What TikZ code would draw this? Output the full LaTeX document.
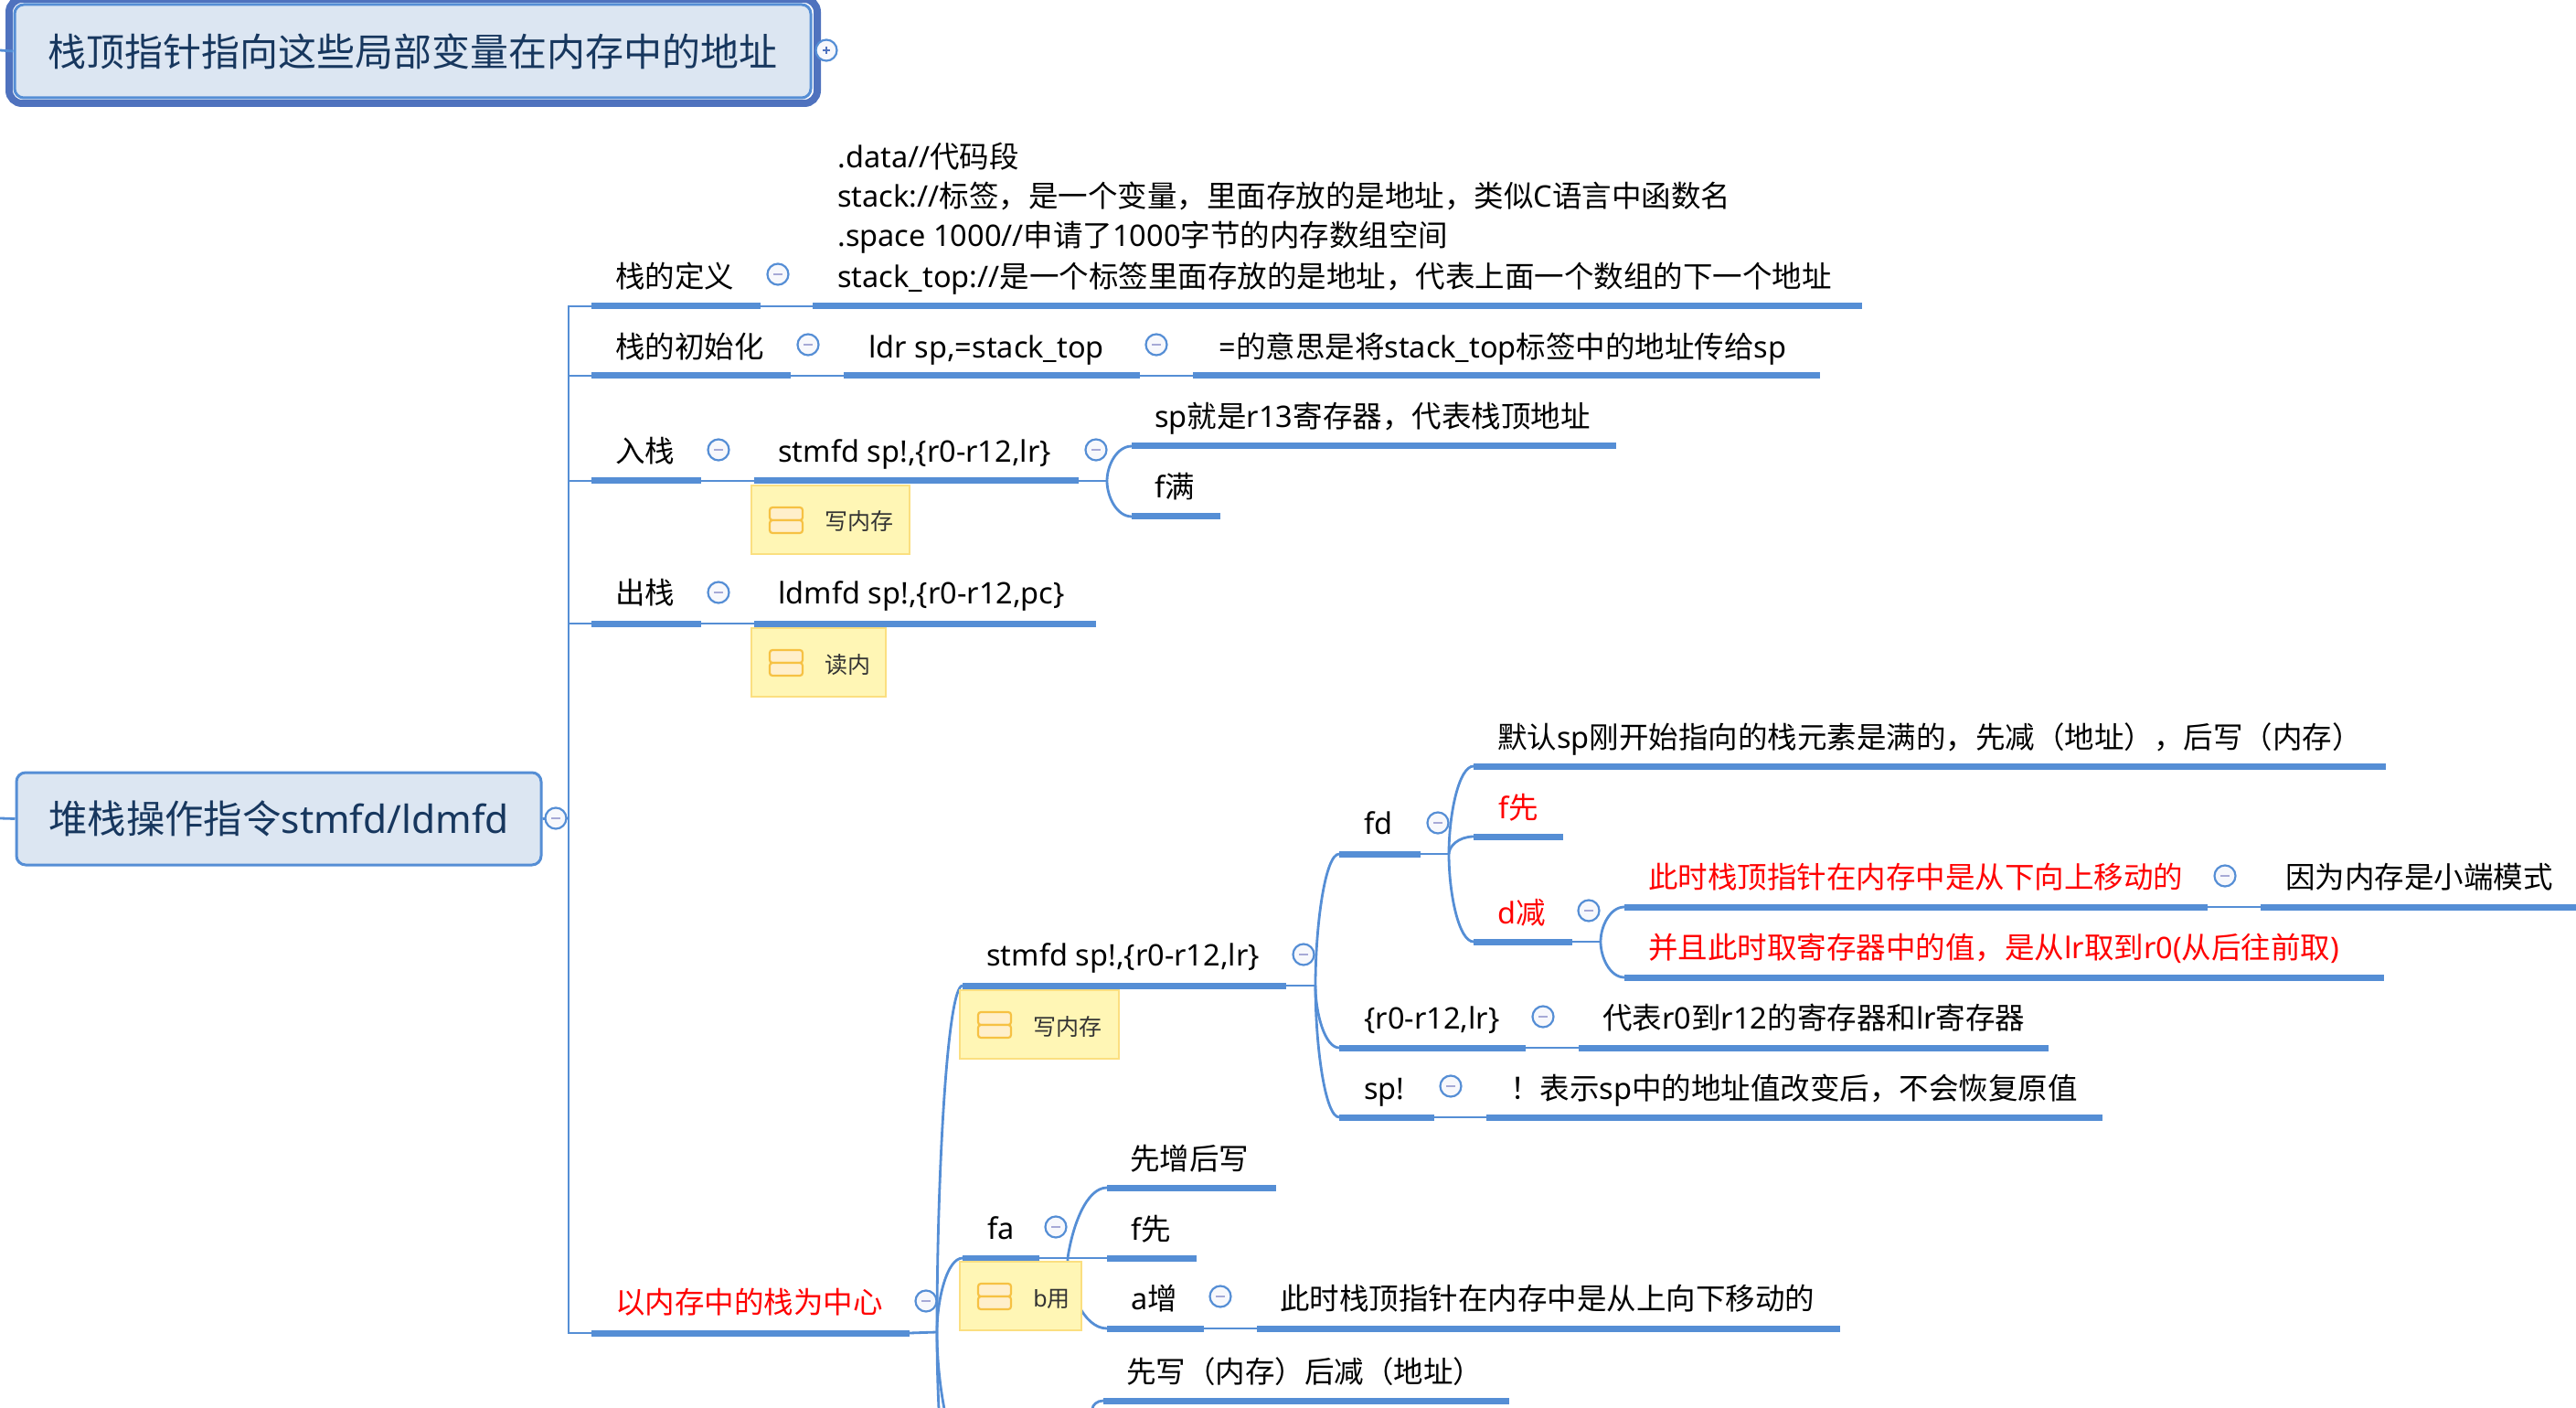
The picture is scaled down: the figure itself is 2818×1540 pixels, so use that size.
\documentclass[tikz,border=0pt]{standalone}
\usepackage{fontspec}
\usetikzlibrary{calc}
\setmainfont{Noto Sans}
\newfontfamily\cjkf{Noto Sans CJK SC}
\newfontfamily\latf{Noto Sans}
\makeatletter
\XeTeXinterchartokenstate=1
\newXeTeXintercharclass\cjkclass
\count@="2E80 \loop\ifnum\count@<"A000 \XeTeXcharclass\count@=\cjkclass \advance\count@ by 1 \repeat
\count@="FF00 \loop\ifnum\count@<"FFF0 \XeTeXcharclass\count@=\cjkclass \advance\count@ by 1 \repeat
\XeTeXinterchartoks 0 \cjkclass={\cjkf}
\XeTeXinterchartoks 4095 \cjkclass={\cjkf}
\XeTeXinterchartoks \cjkclass 0={\latf}
\XeTeXinterchartoks 4095 0={\latf}
\makeatother
\definecolor{linkblue}{HTML}{558ED5}
\definecolor{boxfill}{HTML}{DCE6F2}
\definecolor{boxtext}{HTML}{17375E}
\definecolor{titleframe}{HTML}{4F72BE}
\definecolor{notefill}{HTML}{FFF6B5}
\definecolor{noteline}{HTML}{FBDF80}
\definecolor{iconfill}{HTML}{FFEFCB}
\definecolor{iconline}{HTML}{F6C143}
\definecolor{minusc}{HTML}{A6A9D6}
\definecolor{togfill}{HTML}{F7F8FC}
\tikzset{
  conn/.style={draw=linkblue,line width=1.4pt},
  ulbar/.style={draw=linkblue,line width=3.5pt},
  topicbox/.style={draw=linkblue,line width=1.5pt,fill=boxfill,rounded corners=5pt,text=boxtext,
    font=\fontsize{21.2}{25}\selectfont,inner sep=0pt},
  lab/.style={anchor=base west,inner sep=0pt,font=\fontsize{16.25}{21.5}\selectfont,text=black},
  redlab/.style={lab,text=red},
  toggle/.style={circle,draw=linkblue,line width=1.1pt,fill=togfill,minimum size=11.5pt,inner sep=0pt},
  minusbar/.style={draw=minusc,line width=1.2pt},
  plusbar/.style={draw=titleframe,line width=1.1pt},
  notebox/.style={anchor=north west,draw=noteline,line width=1.2pt,fill=notefill,inner sep=0pt},
  noteicon/.style={draw=iconline,line width=1.1pt,fill=iconfill,rounded corners=1.5pt},
  notetext/.style={anchor=base west,inner sep=0pt,font=\fontsize{12.5}{15}\selectfont,text=black!80},
}
% underline bar with named ends
\newcommand{\ulin}[4]{\coordinate (#1-w) at (#2,#4);\coordinate (#1-e) at (#3,#4);\draw[ulbar] (#1-w) -- (#1-e);}
% text whose visual centre line is y
\newcommand{\lbl}[5][lab]{\node[#1] (#2) at (#3,#4+12) {#5};}
% collapse toggle
\newcommand{\tog}[3]{\node[toggle] (#1) at (#2,#3) {};\draw[minusbar] ($(#1.center)+(-5,0)$) -- ($(#1.center)+(5,0)$);}
% fork curve
\newcommand{\fcurve}[2]{\draw[conn] (#1) .. controls ($(#1)!0.45!(#1|-#2)$) and ($(#1|-#2)!0.4!(#2)$) .. (#2);}
% note box
\newcommand{\note}[6]{\node[notebox,minimum width=#4*0.5pt,minimum height=37.5pt] (#1) at (#2,#3) {};
  \draw[noteicon] ($(#1.north west)+(21,25)$) rectangle ($(#1.north west)+(57,39)$);
  \draw[noteicon] ($(#1.north west)+(21,39)$) rectangle ($(#1.north west)+(57,53)$);
  \node[notetext] (#1t) at ($(#1.north west)+(#5,50)$) {#6};}
\begin{document}
\begin{tikzpicture}[x=0.5pt,y=-0.5pt]
\path[clip] (0,0) rectangle (2818,1540);
\useasboundingbox (0,0) rectangle (2818,1540);
% title
\draw[draw=titleframe,line width=4pt,fill=white,rounded corners=7pt] (10,-1) rectangle (894,113);
\node[topicbox,minimum width=435.5pt,minimum height=51pt,font=\fontsize{21}{25}\selectfont] (title) at (451.5,56) {栈顶指针指向这些局部变量在内存中的地址};
\coordinate (titlein) at (0,55);
\draw[conn] (titlein) -- (title.west);
\node[toggle] (titletog) at (904,55) {};
\draw[plusbar] ($(titletog.center)+(-4,0)$) -- ($(titletog.center)+(4,0)$);
\draw[plusbar] ($(titletog.center)+(0,-4)$) -- ($(titletog.center)+(0,4)$);
% root
\node[topicbox,minimum width=287pt,minimum height=50.5pt] (root) at (305,895.5) {堆栈操作指令stmfd/ldmfd};
\coordinate (rootin) at (0,895);
\draw[conn] (rootin) -- (root.west);
\coordinate (trunk) at (622,895);
\draw[conn] (root.east) -- (trunk);
% first level
\ulin{a1}{647}{832}{335}\ulin{a2}{889}{2037}{335}
\ulin{b1}{647}{865}{411}\ulin{b2}{923}{1247}{411}\ulin{b3}{1305}{1991}{411}
\ulin{c1}{647}{767}{526}\ulin{c2}{825}{1180}{526}\ulin{c3}{1238}{1768}{488}\ulin{c4}{1238}{1335}{565}
\ulin{d1}{647}{767}{682}\ulin{d2}{825}{1199}{682}
\ulin{e1}{647}{995}{1458}
\foreach \t in {a1,b1,c1,d1,e1} {\draw[conn] (trunk) |- (\t-w);}
\draw[conn] (a1-e) -- (a2-w);
\draw[conn] (b1-e) -- (b2-w);
\draw[conn] (b2-e) -- (b3-w);
\draw[conn] (c1-e) -- (c2-w);
\draw[conn] (d1-e) -- (d2-w);
\coordinate (cf) at (1211,526);
\draw[conn] (c2-e) -- (cf);
\fcurve{cf}{c3-w}\fcurve{cf}{c4-w}
% main fork
\coordinate (mf) at (1025,1457);
\draw[conn] (e1-e) -- (mf);
\ulin{f1}{1053}{1407}{1078}\ulin{g1}{1053}{1137}{1376}
\fcurve{mf}{f1-w}\fcurve{mf}{g1-w}
\coordinate (mfa) at (1027,1541);\coordinate (mfb) at (1033,1541);
\draw[conn] (mf) .. controls (1025,1490) and (1026,1520) .. (mfa);
\draw[conn] (mf) .. controls (1025,1490) and (1029,1520) .. (mfb);
% stmfd subtree
\coordinate (sf) at (1439,1078);
\draw[conn] (f1-e) -- (sf);
\ulin{h1}{1465}{1554}{934}\ulin{h2}{1465}{1669}{1146}\ulin{h3}{1727}{2241}{1146}
\ulin{h4}{1465}{1569}{1222}\ulin{h5}{1626}{2300}{1222}
\fcurve{sf}{h1-w}\fcurve{sf}{h2-w}\fcurve{sf}{h4-w}
\draw[conn] (h2-e) -- (h3-w);
\draw[conn] (h4-e) -- (h5-w);
\coordinate (ff) at (1585,934);
\draw[conn] (h1-e) -- (ff);
\ulin{i1}{1612}{2610}{838}\ulin{i2}{1612}{1710}{915}\ulin{i3}{1612}{1720}{1030}
\fcurve{ff}{i1-w}\fcurve{ff}{i2-w}\fcurve{ff}{i3-w}
\coordinate (df) at (1751,1030);
\draw[conn] (i3-e) -- (df);
\ulin{j1}{1777}{2415}{992}\ulin{j2}{2473}{2818}{992}\ulin{j3}{1777}{2608}{1069}
\fcurve{df}{j1-w}\fcurve{df}{j3-w}
\draw[conn] (j1-e) -- (j2-w);
% fa subtree
\coordinate (af) at (1168,1376);
\ulin{k1}{1211}{1396}{1299}\ulin{k2}{1211}{1309}{1376}\ulin{k3}{1211}{1317}{1453}\ulin{k4}{1375}{2013}{1453}
\ulin{k5}{1207}{1651}{1532}
\draw[conn] (g1-e) -- (k2-w);
\draw[conn] (af) .. controls (1173,1342) and (1188,1299) .. (k1-w);
\fcurve{af}{k3-w}
\draw[conn] (k3-e) -- (k4-w);
\coordinate (kf) at (1195,1541);
\fcurve{kf}{k5-w}
% toggles
\tog{t0}{608}{895}
\tog{t1}{851}{300}\tog{t2}{884}{377}\tog{t3}{1265}{377}
\tog{t4}{786}{492}\tog{t5}{1199}{492}\tog{t6}{786}{648}
\tog{t7}{1426}{1044}\tog{t8}{1573}{900}\tog{t9}{1738}{996}\tog{t10}{2434}{958}
\tog{t11}{1688}{1112}\tog{t12}{1587}{1188}
\tog{t13}{1013}{1423}\tog{t14}{1155}{1342}\tog{t15}{1335}{1418}
% labels
\lbl{la1}{673}{302.5}{栈的定义}
\lbl{la2a}{916}{172}{.data//代码段}
\lbl{la2b}{916}{215}{stack://标签，是一个变量，里面存放的是地址，类似C语言中函数名}
\lbl{la2c}{916}{258}{.space 1000//申请了1000字节的内存数组空间}
\lbl{la2d}{916}{303}{stack\_top://是一个标签里面存放的是地址，代表上面一个数组的下一个地址}
\lbl{lb1}{673}{380}{栈的初始化}
\lbl{lb2}{950}{380}{ldr sp,=stack\_top}
\lbl{lb3}{1333}{380}{=的意思是将stack\_top标签中的地址传给sp}
\lbl{lc1}{673}{494}{入栈}
\lbl{lc2}{851}{494}{stmfd sp!,\{r0-r12,lr\}}
\lbl{lc3}{1263}{456}{sp就是r13寄存器，代表栈顶地址}
\lbl{lc4}{1263}{532.5}{f满}
\lbl{ld1}{673}{649}{出栈}
\lbl{ld2}{851}{649}{ldmfd sp!,\{r0-r12,pc\}}
\lbl{lf1}{1079}{1044}{stmfd sp!,\{r0-r12,lr\}}
\lbl{lh1}{1492}{900}{fd}
\lbl{li1}{1638}{806}{默认sp刚开始指向的栈元素是满的，先减（地址），后写（内存）}
\lbl[redlab]{li2}{1639}{883}{f先}
\lbl[redlab]{li3}{1638}{998}{d减}
\lbl[redlab]{lj1}{1803}{959}{此时栈顶指针在内存中是从下向上移动的}
\lbl{lj2}{2500}{959}{因为内存是小端模式}
\lbl[redlab]{lj3}{1803}{1036}{并且此时取寄存器中的值，是从lr取到r0(从后往前取)}
\lbl{lh2}{1492}{1113}{\{r0-r12,lr\}}
\lbl{lh3}{1753}{1113}{代表r0到r12的寄存器和lr寄存器}
\lbl{lh4}{1492}{1190}{sp!}
\lbl{lh5}{1652}{1190}{！表示sp中的地址值改变后，不会恢复原值}
\lbl[redlab]{le1}{673}{1424}{以内存中的栈为中心}
\lbl{lg1}{1080}{1343}{fa}
\lbl{lk1}{1236}{1267}{先增后写}
\lbl{lk2}{1237}{1344}{f先}
\lbl{lk3}{1237}{1420}{a增}
\lbl{lk4}{1400}{1420}{此时栈顶指针在内存中是从上向下移动的}
\lbl{lk5}{1232}{1500}{先写（内存）后减（地址）}
% notes
\note{n1}{821}{530}{173}{81}{写内存}
\note{n2}{821}{686}{147}{81}{读内}
\note{n3}{1049}{1082}{174}{81}{写内存}
\note{n4}{1049}{1379}{133}{81}{b用}
\end{tikzpicture}
\end{document}
